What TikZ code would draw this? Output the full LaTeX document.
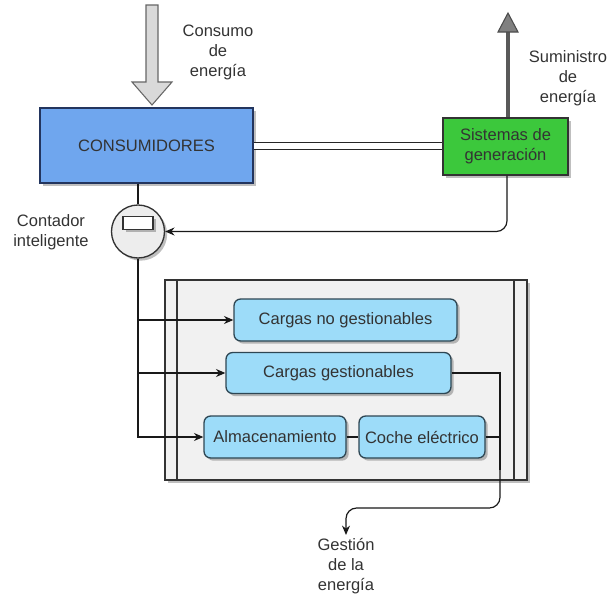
\documentclass[tikz,border=0pt]{standalone}
\usepackage{fontspec}
\setmainfont{Liberation Sans}
\usetikzlibrary{arrows.meta,shadows,calc}
\definecolor{txt}{HTML}{333333}
\definecolor{consfill}{HTML}{6FA6EE}
\definecolor{consline}{HTML}{23355E}
\definecolor{genfill}{HTML}{3CC83C}
\definecolor{loadfill}{HTML}{9DDCF9}
\definecolor{loadline}{HTML}{2E4653}
\definecolor{panel}{HTML}{F1F1F1}
\begin{document}
\begin{tikzpicture}[x=0.75pt,y=-0.75pt,
  font=\fontsize{12.4}{15}\selectfont, text=txt,
  shade/.style={drop shadow={shadow xshift=2pt,shadow yshift=-2pt,opacity=0.25,fill=black}},
  label/.style={align=center,inner sep=0pt},
  block/.style={draw=#1,line width=1pt,shade,inner sep=0pt,align=center},
  loadbox/.style={block=loadline,fill=loadfill,rounded corners=5pt,minimum height=42*0.75pt},
  wire/.style={draw=black!90,line width=0.9pt},
  tip/.style={-{Stealth[length=7pt,width=6pt]}}]
\useasboundingbox (0,0) rectangle (608,596);

% incoming energy (block arrow)
\draw[fill=black!15,draw=black!60,line width=0.8pt]
  (146,5) -- (158,5) -- (158,82) -- (172,82) -- (152,105) -- (132,82) -- (146,82) -- cycle;
\node[label] (consumo) at (218,52) {Consumo\\de\\energía};

% consumers and generation
\node[block=consline,fill=consfill,minimum width=213*0.75pt,minimum height=75*0.75pt]
  (cons) at (146.5,145.5) {CONSUMIDORES};
\node[block=black!80,fill=genfill,minimum width=125*0.75pt,minimum height=57*0.75pt]
  (sis) at (505.5,146.5) {Sistemas de\\generación};
\draw[draw=black!85,double=white,double distance=4.5pt,line width=0.8pt]
  (cons.east |- 0,146) -- (sis.west |- 0,146);

% supplied energy (outgoing arrow)
\draw[draw=black!65,line width=3pt] (sis.north -| 508,0) -- (508,30);
\draw[fill=black!50,draw=black!70,line width=0.8pt] (498,32) -- (508,13) -- (518,32) -- cycle;
\node[label] (suministro) at (568,78) {Suministro\\de\\energía};

% smart meter
\node[circle,draw=black!80,fill=black!7,line width=1pt,minimum size=53*0.75pt,shade]
  (meter) at (138,231.5) {};
\node[draw=black!80,fill=white,line width=1pt,minimum width=30*0.75pt,minimum height=13*0.75pt,inner sep=0pt,shade]
  (meterdisp) at (138,223) {};
\node[label] (contador) at (51,232) {Contador\\inteligente};
\draw[wire] (cons.south -| meter.north) -- (meter.north);
\draw[wire,tip,rounded corners=8pt] (sis.south -| 507,0) |- (meter.east);

% energy management panel
\node[draw=black!80,fill=panel,line width=1pt,minimum width=362*0.75pt,minimum height=200*0.75pt,shade]
  (panelbox) at (346,380) {};
\draw[draw=black!80,line width=1pt] (177,280) -- (177,480) (514,280) -- (514,480);

\node[loadbox,minimum width=223*0.75pt] (cnog) at (345.5,320) {Cargas no gestionables};
\node[loadbox,minimum width=225*0.75pt,minimum height=41*0.75pt] (cges) at (338.5,373) {Cargas gestionables};
\node[loadbox,minimum width=142*0.75pt] (alm) at (275,437) {Almacenamiento};
\node[loadbox,minimum width=126*0.75pt] (coche) at (422,437) {Coche eléctrico};

\draw[wire,tip] (meter.south) |- (cnog.west);
\draw[wire,tip] (meter.south) |- (cges.west);
\draw[wire,tip] (meter.south) |- (alm.west);
\draw[wire] (alm.east) -- (coche.west);

% management output
\node[label] (gest) at (346,566) {Gestión\\de la\\energía};
\coordinate (bus) at (500,508);
\coordinate (busmid) at (500,470);
\draw[wire] (coche.east) -- (coche.east -| bus);
\draw[wire] (cges.east) -| (busmid);
\draw[wire,tip,rounded corners=8pt] (busmid) -- (bus) -| ($(gest.north)+(0,-3)$);
\end{tikzpicture}
\end{document}
